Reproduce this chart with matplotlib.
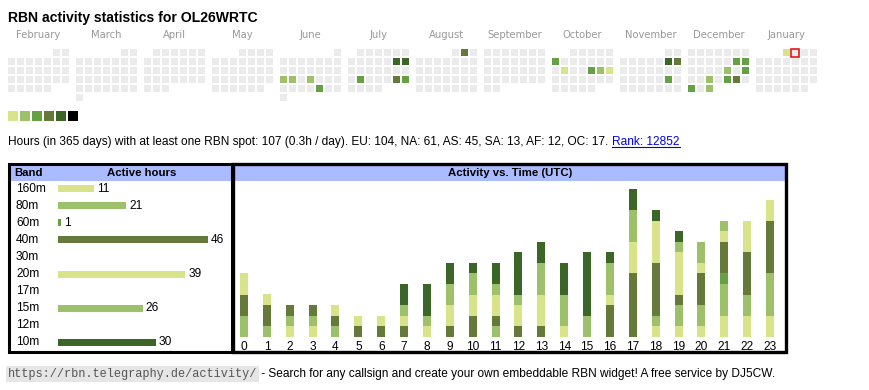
import datetime as dt
import numpy as np
import matplotlib
matplotlib.use("Agg")
import matplotlib.pyplot as plt
from matplotlib.patches import Rectangle
from matplotlib.transforms import blended_transform_factory

# ---- data -------------------------------------------------------------
callsign = "OL26WRTC"
months = ["February", "March", "April", "May", "June", "July", "August",
          "September", "October", "November", "December", "January"]
first_month = (2025, 2)
today = dt.date(2026, 1, 2)

# active days and their level (1..5)
active_dates = ["2025-06-16", "2025-06-17", "2025-06-19", "2025-06-27",
                "2025-07-12", "2025-07-13", "2025-07-22", "2025-07-26", "2025-07-27",
                "2025-08-02",
                "2025-10-06", "2025-10-14", "2025-10-17", "2025-10-18", "2025-10-19",
                "2025-11-08", "2025-11-09", "2025-11-22",
                "2025-12-13", "2025-12-14", "2025-12-19", "2025-12-21", "2025-12-24",
                "2025-12-26", "2025-12-27", "2025-12-29", "2025-12-31",
                "2026-01-01"]
active_levels = [2, 2, 2, 3,
                 5, 5, 3, 4, 3,
                 4,
                 3, 1, 3, 2, 1,
                 5, 4, 3,
                 3, 3, 2, 3, 2,
                 3, 4, 3, 2,
                 1]

bands = ["160m", "80m", "60m", "40m", "30m", "20m", "17m", "15m", "12m", "10m"]
band_hours = [11, 21, 1, 46, 0, 39, 0, 26, 0, 30]

hours = list(range(24))
hourly = {
    "160m": [0, 0, 1, 1, 0, 0, 0, 0, 0, 0, 0, 0, 0, 0, 0, 0, 0, 0, 1, 1, 1, 2, 2, 2],
    "80m":  [2, 1, 1, 1, 1, 0, 0, 0, 0, 0, 0, 1, 0, 0, 0, 0, 0, 0, 1, 2, 2, 3, 2, 4],
    "60m":  [0, 0, 0, 0, 0, 0, 0, 0, 0, 0, 0, 0, 0, 0, 0, 0, 0, 0, 0, 0, 0, 1, 0, 0],
    "40m":  [2, 2, 1, 1, 1, 1, 1, 1, 0, 1, 2, 1, 1, 1, 0, 0, 3, 6, 5, 1, 3, 3, 4, 5],
    "30m":  [0] * 24,
    "20m":  [2, 1, 0, 0, 1, 1, 1, 1, 1, 2, 2, 2, 2, 3, 1, 0, 1, 3, 4, 4, 1, 1, 3, 2],
    "17m":  [0] * 24,
    "15m":  [0, 0, 0, 0, 0, 0, 0, 1, 1, 2, 2, 1, 1, 3, 3, 2, 3, 3, 0, 1, 2, 1, 0, 0],
    "12m":  [0] * 24,
    "10m":  [0, 0, 0, 0, 0, 0, 0, 2, 3, 2, 1, 2, 4, 2, 3, 6, 1, 2, 1, 1, 0, 0, 0, 0],
}

stats_text = ("Hours (in 365 days) with at least one RBN spot: 107 (0.3h / day). "
              "EU: 104, NA: 61, AS: 45, SA: 13, AF: 12, OC: 17.")
rank_text = "Rank: 12852"
url_text = "https://rbn.telegraphy.de/activity/"
footer_text = " - Search for any callsign and create your own embeddable RBN widget! A free service by DJ5CW."

# ---- style ------------------------------------------------------------
level_colors = ["#ebebeb", "#d9e38a", "#9dc16a", "#65a045", "#657a3a", "#3c6628", "#000000"]
band_colors = {"160m": level_colors[1], "80m": level_colors[2], "60m": level_colors[3],
               "40m": level_colors[4], "30m": level_colors[5], "20m": level_colors[1],
               "17m": level_colors[2], "15m": level_colors[2], "12m": level_colors[3],
               "10m": level_colors[5]}
header_blue = "#aabbff"
W, H = 870, 390
plt.rcParams['font.family'] = ['Liberation Sans', 'DejaVu Sans']

fig = plt.figure(figsize=(W / 100, H / 100), dpi=100)
bg = fig.add_axes([0, 0, 1, 1])
bg.set_xlim(0, W)
bg.set_ylim(H, 0)
bg.axis("off")

def px_axes(x0, y0, x1, y1):
    # axes placed by pixel box (top-left origin)
    return fig.add_axes([x0 / W, 1 - y1 / H, (x1 - x0) / W, (y1 - y0) / H])

# ---- title ------------------------------------------------------------
bg.text(8, 18, "RBN activity statistics for " + callsign, fontsize=10.1,
        fontweight="bold", va="center", ha="left")

# ---- calendar ---------------------------------------------------------
levels = {dt.date.fromisoformat(d): l for d, l in zip(active_dates, active_levels)}
cell, pitch, block = 7, 9, 68
cal_x0, cal_y0 = 8, 49
y, m = first_month
for i, name in enumerate(months):
    bx = cal_x0 + i * block
    bg.text(bx + 3 * pitch + cell / 2, 35, name, fontsize=7.2, color="#999999",
            ha="center", va="center", family="DejaVu Sans")
    d = dt.date(y, m, 1)
    first_wd = d.weekday()
    while d.month == m:
        k = first_wd + d.day - 1
        cx = bx + (k % 7) * pitch
        cy = cal_y0 + (k // 7) * pitch
        lvl = levels.get(d, 0)
        bg.add_patch(Rectangle((cx, cy), cell, cell, facecolor=level_colors[lvl],
                               edgecolor="none"))
        if d == today:
            bg.add_patch(Rectangle((cx - 0.5, cy - 0.5), cell + 1, cell + 1,
                                   facecolor="none", edgecolor="#ee0000", lw=1.1))
        d += dt.timedelta(days=1)
    m += 1
    if m > 12:
        m, y = 1, y + 1

# legend squares
for i, c in enumerate(level_colors[1:]):
    bg.add_patch(Rectangle((8 + 12 * i, 111), 10, 10, facecolor=c, edgecolor="none"))

# ---- stats line -------------------------------------------------------
t1 = bg.text(8, 142, stats_text, fontsize=8.6, va="center", ha="left")
fig.canvas.draw()
r = fig.canvas.get_renderer()
bb = t1.get_window_extent(r)
t2 = fig.text(bb.x1 / W + 4 / W, bb.y0 / H, rank_text, fontsize=8.6, color="#0000ee",
              va="bottom", ha="left")
bb2 = t2.get_window_extent(r)
fig.add_artist(plt.Line2D([bb2.x0 / W, bb2.x1 / W], [(bb2.y0 + 1) / H] * 2,
                          color="#0000ee", lw=0.8))

# ---- boxes and headers -----------------------------------------------
bg.add_patch(Rectangle((9, 163.5), 223, 188, facecolor="none", edgecolor="black",
                       lw=2.2, zorder=5))
bg.add_patch(Rectangle((233.5, 163.5), 552.5, 188.5, facecolor="none", edgecolor="black",
                       lw=2.4, zorder=5))
bg.add_patch(Rectangle((9, 165), 777, 16, facecolor=header_blue, edgecolor="none", zorder=1))
bg.text(14, 173, "Band", fontsize=8.2, fontweight="bold", va="center")
bg.text(141.5, 173, "Active hours", fontsize=8.2, fontweight="bold", va="center", ha="center")
bg.text(510, 173, "Activity vs. Time (UTC)", fontsize=8.2, fontweight="bold",
        va="center", ha="center")

# ---- band bars --------------------------------------------------------
px_per_hour = 150 / 46
ax_b = px_axes(58, 180, 228, 351)
ax_b.set_xlim(0, 170 / px_per_hour)
ax_b.set_ylim(len(bands) - 0.5, -0.5)
ax_b.axis("off")
ypos = np.arange(len(bands))
ax_b.barh(ypos, band_hours, height=7 / 17.1, color=[band_colors[b] for b in bands])
lab_tr = blended_transform_factory(bg.transData, ax_b.transData)
for yi, b, v in zip(ypos, bands, band_hours):
    ax_b.text(16, yi, b, transform=lab_tr, fontsize=8.6, va="center", ha="left")
    if v > 0:
        ax_b.text(v + 3 / px_per_hour, yi, str(v), fontsize=8.6, va="center", ha="left")

# ---- activity vs time -------------------------------------------------
hp = (770 - 244) / 23
unit = 10.55
ax_t = px_axes(235, 181, 785, 336.7)
ax_t.set_xlim(-(244 - 235) / hp, 23 + (785 - 770) / hp)
ax_t.set_ylim(0, (336.7 - 181) / unit)
for s in ax_t.spines.values():
    s.set_visible(False)
ax_t.set_yticks([])
bottom = np.zeros(len(hours))
for b in bands:
    vals = np.array(hourly[b])
    ax_t.bar(hours, vals, bottom=bottom, width=8 / hp, color=band_colors[b], linewidth=0)
    bottom += vals
ax_t.set_xticks(hours)
ax_t.set_xticklabels([str(h) for h in hours], fontsize=8.6)
ax_t.tick_params(axis="x", length=0, pad=3)
ax_t.patch.set_alpha(0)

# ---- footer -----------------------------------------------------------
f1 = bg.text(8, 374, url_text, fontsize=8.6, family="Liberation Mono", color="#555555",
             va="center", ha="left",
             bbox=dict(facecolor="#e6e6e6", edgecolor="none", pad=1.2))
fig.canvas.draw()
fb = f1.get_window_extent(r)
fig.text(fb.x1 / W + 1 / W, (fb.y0 + fb.y1) / 2 / H, footer_text, fontsize=8.6,
         va="center", ha="left")

fig.savefig("out.png", dpi=100, facecolor="white")
